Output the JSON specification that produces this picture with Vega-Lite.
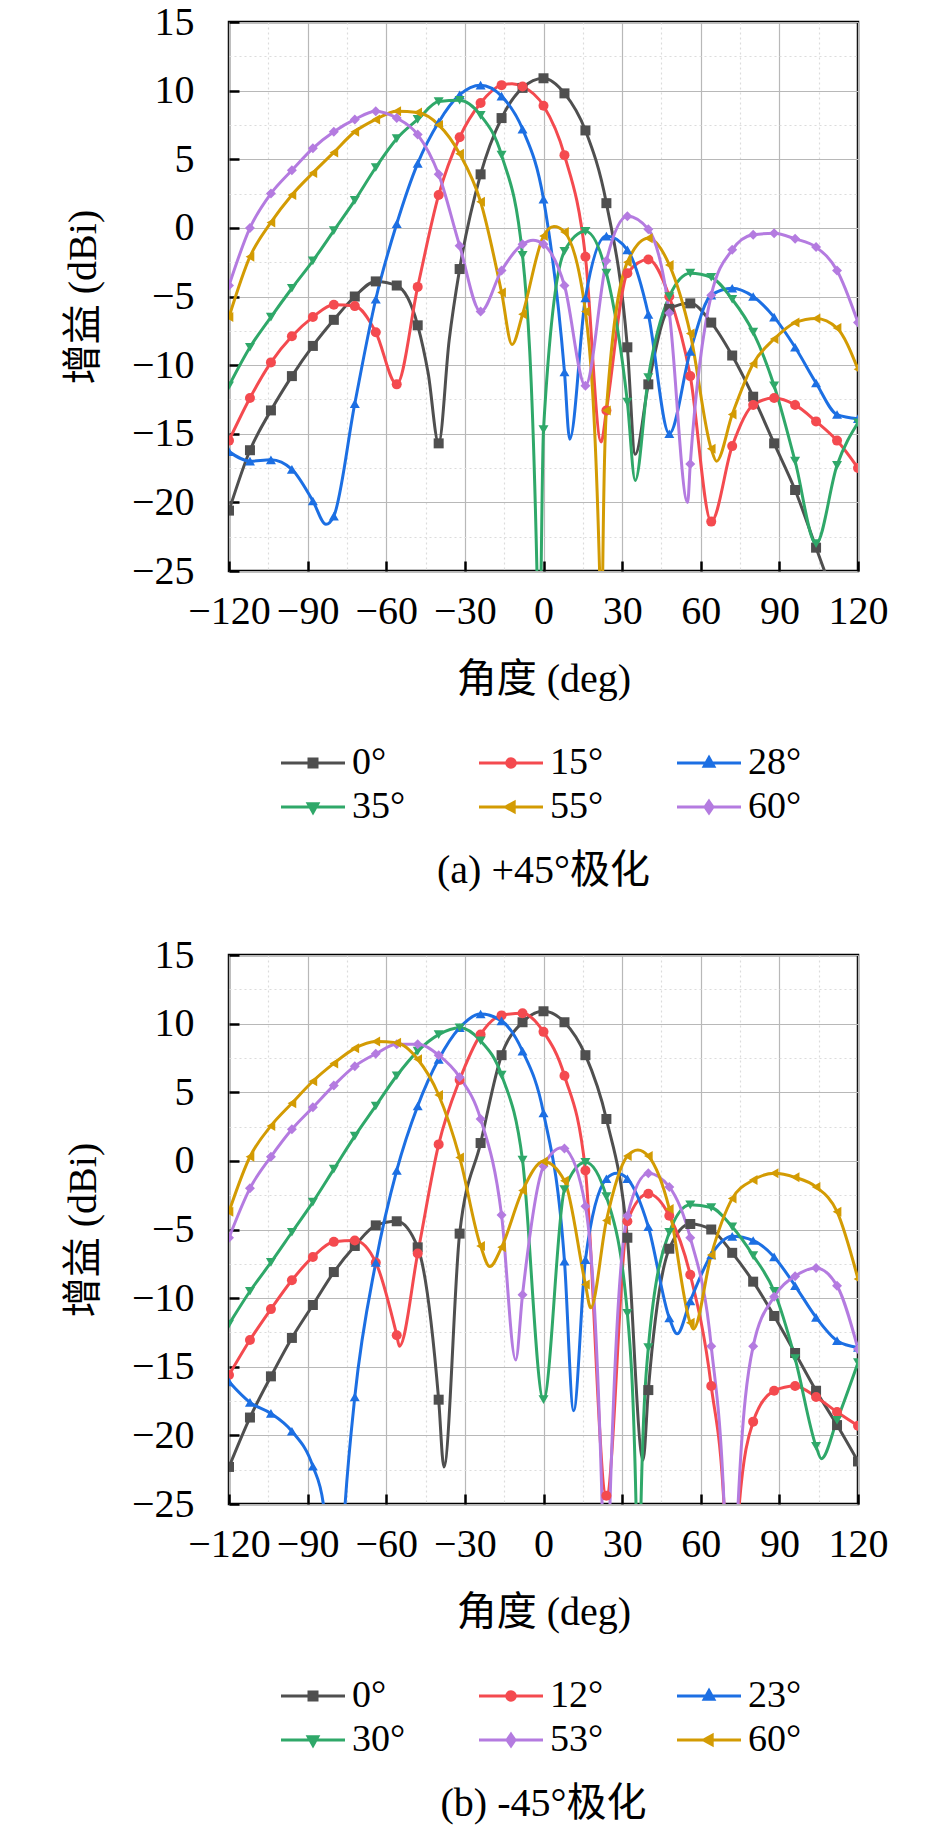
{
  "$schema": "https://vega.github.io/schema/vega-lite/v6.json",
  "padding": {"left": 62, "top": 0, "right": 0, "bottom": 0},
  "config": {
    "font": "Liberation Serif, Noto Sans CJK SC",
    "view": {"stroke": "black", "strokeWidth": 2.5},
    "title": {"font": "Liberation Serif, Noto Sans CJK SC", "fontSize": 40, "fontWeight": "normal", "color": "black", "anchor": "middle"}
  },
  "datasets": {
    "pa": [
      {"s":"0°","a":-120,"g":-20.6},{"s":"0°","a":-112,"g":-16.2},{"s":"0°","a":-104,"g":-13.3},{"s":"0°","a":-96,"g":-10.8},{"s":"0°","a":-88,"g":-8.6},{"s":"0°","a":-80,"g":-6.7},{"s":"0°","a":-72,"g":-5.0},{"s":"0°","a":-64,"g":-3.9},{"s":"0°","a":-56,"g":-4.2},{"s":"0°","a":-48,"g":-7.1},{"s":"0°","a":-44,"g":-10.6},{"s":"0°","a":-40,"g":-15.7},{"s":"0°","a":-36,"g":-8.2},{"s":"0°","a":-32,"g":-3.0},{"s":"0°","a":-24,"g":3.9},{"s":"0°","a":-16,"g":8.0},{"s":"0°","a":-8,"g":10.2},{"s":"0°","a":0,"g":10.9},{"s":"0°","a":8,"g":9.8},{"s":"0°","a":16,"g":7.1},{"s":"0°","a":24,"g":1.8},{"s":"0°","a":32,"g":-8.7},{"s":"0°","a":35,"g":-16.5},{"s":"0°","a":40,"g":-11.4},{"s":"0°","a":48,"g":-5.9},{"s":"0°","a":56,"g":-5.5},{"s":"0°","a":64,"g":-6.9},{"s":"0°","a":72,"g":-9.3},{"s":"0°","a":80,"g":-12.3},{"s":"0°","a":88,"g":-15.7},{"s":"0°","a":96,"g":-19.1},{"s":"0°","a":104,"g":-23.3},{"s":"0°","a":112,"g":-27.5},{"s":"0°","a":120,"g":-31.5},
      {"s":"15°","a":-120,"g":-15.5},{"s":"15°","a":-112,"g":-12.4},{"s":"15°","a":-104,"g":-9.8},{"s":"15°","a":-96,"g":-7.9},{"s":"15°","a":-88,"g":-6.5},{"s":"15°","a":-80,"g":-5.6},{"s":"15°","a":-72,"g":-5.7},{"s":"15°","a":-64,"g":-7.6},{"s":"15°","a":-56,"g":-11.4},{"s":"15°","a":-48,"g":-4.3},{"s":"15°","a":-40,"g":2.4},{"s":"15°","a":-32,"g":6.6},{"s":"15°","a":-24,"g":9.1},{"s":"15°","a":-16,"g":10.4},{"s":"15°","a":-12,"g":10.5},{"s":"15°","a":-8,"g":10.3},{"s":"15°","a":0,"g":8.9},{"s":"15°","a":8,"g":5.3},{"s":"15°","a":16,"g":-2.1},{"s":"15°","a":22,"g":-15.6},{"s":"15°","a":24,"g":-13.3},{"s":"15°","a":32,"g":-3.3},{"s":"15°","a":40,"g":-2.3},{"s":"15°","a":48,"g":-5.0},{"s":"15°","a":56,"g":-10.8},{"s":"15°","a":64,"g":-21.4},{"s":"15°","a":72,"g":-15.9},{"s":"15°","a":80,"g":-12.9},{"s":"15°","a":88,"g":-12.4},{"s":"15°","a":96,"g":-12.9},{"s":"15°","a":104,"g":-14.1},{"s":"15°","a":112,"g":-15.5},{"s":"15°","a":120,"g":-17.5},
      {"s":"28°","a":-120,"g":-16.3},{"s":"28°","a":-112,"g":-17.0},{"s":"28°","a":-104,"g":-16.9},{"s":"28°","a":-96,"g":-17.6},{"s":"28°","a":-88,"g":-19.9},{"s":"28°","a":-83,"g":-21.6},{"s":"28°","a":-80,"g":-21.0},{"s":"28°","a":-72,"g":-12.8},{"s":"28°","a":-64,"g":-5.2},{"s":"28°","a":-56,"g":0.3},{"s":"28°","a":-48,"g":4.7},{"s":"28°","a":-40,"g":7.7},{"s":"28°","a":-32,"g":9.7},{"s":"28°","a":-24,"g":10.4},{"s":"28°","a":-16,"g":9.6},{"s":"28°","a":-8,"g":7.2},{"s":"28°","a":0,"g":2.1},{"s":"28°","a":8,"g":-10.5},{"s":"28°","a":10,"g":-15.4},{"s":"28°","a":16,"g":-5.1},{"s":"28°","a":24,"g":-0.6},{"s":"28°","a":32,"g":-1.6},{"s":"28°","a":40,"g":-6.3},{"s":"28°","a":48,"g":-15.0},{"s":"28°","a":56,"g":-9.0},{"s":"28°","a":64,"g":-4.9},{"s":"28°","a":72,"g":-4.4},{"s":"28°","a":80,"g":-5.0},{"s":"28°","a":88,"g":-6.5},{"s":"28°","a":96,"g":-8.7},{"s":"28°","a":104,"g":-11.3},{"s":"28°","a":112,"g":-13.6},{"s":"28°","a":120,"g":-13.9},
      {"s":"35°","a":-120,"g":-11.5},{"s":"35°","a":-112,"g":-8.7},{"s":"35°","a":-104,"g":-6.5},{"s":"35°","a":-96,"g":-4.4},{"s":"35°","a":-88,"g":-2.4},{"s":"35°","a":-80,"g":-0.2},{"s":"35°","a":-72,"g":2.0},{"s":"35°","a":-64,"g":4.4},{"s":"35°","a":-56,"g":6.5},{"s":"35°","a":-48,"g":7.9},{"s":"35°","a":-40,"g":9.2},{"s":"35°","a":-32,"g":9.3},{"s":"35°","a":-24,"g":8.2},{"s":"35°","a":-16,"g":5.3},{"s":"35°","a":-8,"g":-2.0},{"s":"35°","a":-2.5,"g":-25},{"s":"35°","a":-1.7,"g":-40},{"s":"35°","a":-0.9,"g":-25},{"s":"35°","a":0,"g":-14.7},{"s":"35°","a":8,"g":-1.7},{"s":"35°","a":16,"g":-0.25},{"s":"35°","a":24,"g":-3.3},{"s":"35°","a":32,"g":-12.7},{"s":"35°","a":35,"g":-18.4},{"s":"35°","a":40,"g":-10.9},{"s":"35°","a":48,"g":-5.0},{"s":"35°","a":56,"g":-3.3},{"s":"35°","a":64,"g":-3.6},{"s":"35°","a":72,"g":-5.2},{"s":"35°","a":80,"g":-7.6},{"s":"35°","a":88,"g":-11.5},{"s":"35°","a":96,"g":-17.0},{"s":"35°","a":104,"g":-23.0},{"s":"35°","a":112,"g":-17.3},{"s":"35°","a":120,"g":-14.2},
      {"s":"55°","a":-120,"g":-6.5},{"s":"55°","a":-112,"g":-2.1},{"s":"55°","a":-104,"g":0.4},{"s":"55°","a":-96,"g":2.4},{"s":"55°","a":-88,"g":4.0},{"s":"55°","a":-80,"g":5.5},{"s":"55°","a":-72,"g":7.0},{"s":"55°","a":-64,"g":7.9},{"s":"55°","a":-56,"g":8.5},{"s":"55°","a":-48,"g":8.4},{"s":"55°","a":-40,"g":7.5},{"s":"55°","a":-32,"g":5.4},{"s":"55°","a":-24,"g":1.9},{"s":"55°","a":-16,"g":-4.7},{"s":"55°","a":-12,"g":-8.5},{"s":"55°","a":-8,"g":-6.3},{"s":"55°","a":0,"g":-0.6},{"s":"55°","a":4,"g":0.1},{"s":"55°","a":8,"g":-0.3},{"s":"55°","a":16,"g":-6.1},{"s":"55°","a":21.4,"g":-25},{"s":"55°","a":22,"g":-40},{"s":"55°","a":22.6,"g":-25},{"s":"55°","a":24,"g":-13.3},{"s":"55°","a":32,"g":-2.5},{"s":"55°","a":40,"g":-0.75},{"s":"55°","a":48,"g":-2.7},{"s":"55°","a":56,"g":-7.7},{"s":"55°","a":64,"g":-16.1},{"s":"55°","a":66,"g":-17.0},{"s":"55°","a":72,"g":-13.6},{"s":"55°","a":80,"g":-9.9},{"s":"55°","a":88,"g":-8.1},{"s":"55°","a":96,"g":-6.9},{"s":"55°","a":104,"g":-6.6},{"s":"55°","a":112,"g":-7.3},{"s":"55°","a":120,"g":-10.3},
      {"s":"60°","a":-120,"g":-4.2},{"s":"60°","a":-112,"g":0.0},{"s":"60°","a":-104,"g":2.5},{"s":"60°","a":-96,"g":4.2},{"s":"60°","a":-88,"g":5.8},{"s":"60°","a":-80,"g":7.0},{"s":"60°","a":-72,"g":7.9},{"s":"60°","a":-64,"g":8.5},{"s":"60°","a":-56,"g":8.0},{"s":"60°","a":-48,"g":6.8},{"s":"60°","a":-40,"g":3.9},{"s":"60°","a":-32,"g":-1.3},{"s":"60°","a":-24,"g":-6.1},{"s":"60°","a":-16,"g":-3.1},{"s":"60°","a":-8,"g":-1.2},{"s":"60°","a":-4,"g":-0.9},{"s":"60°","a":0,"g":-1.2},{"s":"60°","a":8,"g":-4.2},{"s":"60°","a":16,"g":-11.5},{"s":"60°","a":24,"g":-2.4},{"s":"60°","a":32,"g":0.85},{"s":"60°","a":40,"g":-0.1},{"s":"60°","a":48,"g":-6.2},{"s":"60°","a":55,"g":-20.0},{"s":"60°","a":56,"g":-17.2},{"s":"60°","a":64,"g":-4.9},{"s":"60°","a":72,"g":-1.6},{"s":"60°","a":80,"g":-0.5},{"s":"60°","a":88,"g":-0.4},{"s":"60°","a":96,"g":-0.8},{"s":"60°","a":104,"g":-1.4},{"s":"60°","a":112,"g":-3.1},{"s":"60°","a":120,"g":-6.9}
    ],
    "pb": [
      {"s":"0°","a":-120,"g":-22.3},{"s":"0°","a":-112,"g":-18.7},{"s":"0°","a":-104,"g":-15.7},{"s":"0°","a":-96,"g":-12.9},{"s":"0°","a":-88,"g":-10.5},{"s":"0°","a":-80,"g":-8.1},{"s":"0°","a":-72,"g":-6.2},{"s":"0°","a":-64,"g":-4.7},{"s":"0°","a":-56,"g":-4.4},{"s":"0°","a":-48,"g":-6.3},{"s":"0°","a":-40,"g":-17.4},{"s":"0°","a":-38,"g":-22.3},{"s":"0°","a":-32,"g":-5.3},{"s":"0°","a":-24,"g":1.3},{"s":"0°","a":-16,"g":7.7},{"s":"0°","a":-8,"g":10.1},{"s":"0°","a":0,"g":10.9},{"s":"0°","a":8,"g":10.1},{"s":"0°","a":16,"g":7.7},{"s":"0°","a":24,"g":3.05},{"s":"0°","a":32,"g":-5.6},{"s":"0°","a":38,"g":-21.8},{"s":"0°","a":40,"g":-16.7},{"s":"0°","a":48,"g":-6.4},{"s":"0°","a":56,"g":-4.6},{"s":"0°","a":64,"g":-5.0},{"s":"0°","a":72,"g":-6.7},{"s":"0°","a":80,"g":-8.8},{"s":"0°","a":88,"g":-11.3},{"s":"0°","a":96,"g":-14.0},{"s":"0°","a":104,"g":-16.75},{"s":"0°","a":112,"g":-19.25},{"s":"0°","a":120,"g":-21.9},
      {"s":"12°","a":-120,"g":-15.6},{"s":"12°","a":-112,"g":-13.05},{"s":"12°","a":-104,"g":-10.8},{"s":"12°","a":-96,"g":-8.7},{"s":"12°","a":-88,"g":-7.0},{"s":"12°","a":-80,"g":-5.9},{"s":"12°","a":-72,"g":-5.8},{"s":"12°","a":-64,"g":-7.4},{"s":"12°","a":-56,"g":-12.7},{"s":"12°","a":-55,"g":-13.5},{"s":"12°","a":-48,"g":-6.75},{"s":"12°","a":-40,"g":1.2},{"s":"12°","a":-32,"g":5.9},{"s":"12°","a":-24,"g":9.2},{"s":"12°","a":-16,"g":10.6},{"s":"12°","a":-8,"g":10.75},{"s":"12°","a":0,"g":9.4},{"s":"12°","a":8,"g":6.2},{"s":"12°","a":16,"g":-0.7},{"s":"12°","a":24,"g":-24.4},{"s":"12°","a":32,"g":-4.4},{"s":"12°","a":40,"g":-2.4},{"s":"12°","a":48,"g":-4.0},{"s":"12°","a":56,"g":-8.3},{"s":"12°","a":64,"g":-16.4},{"s":"12°","a":69,"g":-25.5},{"s":"12°","a":71.5,"g":-40},{"s":"12°","a":74.5,"g":-25.5},{"s":"12°","a":80,"g":-19.0},{"s":"12°","a":88,"g":-16.75},{"s":"12°","a":96,"g":-16.4},{"s":"12°","a":104,"g":-17.2},{"s":"12°","a":112,"g":-18.3},{"s":"12°","a":120,"g":-19.3},
      {"s":"23°","a":-120,"g":-16.1},{"s":"23°","a":-112,"g":-17.6},{"s":"23°","a":-104,"g":-18.4},{"s":"23°","a":-96,"g":-19.7},{"s":"23°","a":-88,"g":-22.25},{"s":"23°","a":-84,"g":-25},{"s":"23°","a":-80,"g":-40},{"s":"23°","a":-75.7,"g":-25},{"s":"23°","a":-72,"g":-17.2},{"s":"23°","a":-64,"g":-7.4},{"s":"23°","a":-56,"g":-0.7},{"s":"23°","a":-48,"g":4.0},{"s":"23°","a":-40,"g":7.4},{"s":"23°","a":-32,"g":9.7},{"s":"23°","a":-24,"g":10.7},{"s":"23°","a":-16,"g":10.2},{"s":"23°","a":-8,"g":8.0},{"s":"23°","a":0,"g":3.5},{"s":"23°","a":8,"g":-7.3},{"s":"23°","a":11.5,"g":-18.2},{"s":"23°","a":16,"g":-7.2},{"s":"23°","a":24,"g":-1.3},{"s":"23°","a":28,"g":-0.9},{"s":"23°","a":32,"g":-1.3},{"s":"23°","a":40,"g":-4.8},{"s":"23°","a":48,"g":-11.45},{"s":"23°","a":51,"g":-12.6},{"s":"23°","a":56,"g":-10.2},{"s":"23°","a":64,"g":-6.85},{"s":"23°","a":72,"g":-5.5},{"s":"23°","a":80,"g":-5.8},{"s":"23°","a":88,"g":-7.0},{"s":"23°","a":96,"g":-9.1},{"s":"23°","a":104,"g":-11.4},{"s":"23°","a":112,"g":-13.1},{"s":"23°","a":120,"g":-13.6},
      {"s":"30°","a":-120,"g":-11.9},{"s":"30°","a":-112,"g":-9.5},{"s":"30°","a":-104,"g":-7.4},{"s":"30°","a":-96,"g":-5.2},{"s":"30°","a":-88,"g":-3.0},{"s":"30°","a":-80,"g":-0.6},{"s":"30°","a":-72,"g":1.8},{"s":"30°","a":-64,"g":4.0},{"s":"30°","a":-56,"g":6.2},{"s":"30°","a":-48,"g":8.0},{"s":"30°","a":-40,"g":9.2},{"s":"30°","a":-32,"g":9.7},{"s":"30°","a":-24,"g":8.75},{"s":"30°","a":-16,"g":6.25},{"s":"30°","a":-8,"g":0.05},{"s":"30°","a":0,"g":-17.4},{"s":"30°","a":8,"g":-2.1},{"s":"30°","a":16,"g":-0.1},{"s":"30°","a":24,"g":-2.6},{"s":"30°","a":32,"g":-11.1},{"s":"30°","a":35.3,"g":-25},{"s":"30°","a":36.2,"g":-40},{"s":"30°","a":37.2,"g":-25},{"s":"30°","a":40,"g":-13.6},{"s":"30°","a":48,"g":-5.2},{"s":"30°","a":56,"g":-3.2},{"s":"30°","a":64,"g":-3.4},{"s":"30°","a":72,"g":-4.8},{"s":"30°","a":80,"g":-6.9},{"s":"30°","a":88,"g":-9.5},{"s":"30°","a":96,"g":-14.4},{"s":"30°","a":104,"g":-20.8},{"s":"30°","a":106,"g":-21.7},{"s":"30°","a":112,"g":-18.9},{"s":"30°","a":120,"g":-14.7},
      {"s":"53°","a":-120,"g":-5.6},{"s":"53°","a":-112,"g":-2.0},{"s":"53°","a":-104,"g":0.3},{"s":"53°","a":-96,"g":2.3},{"s":"53°","a":-88,"g":3.9},{"s":"53°","a":-80,"g":5.5},{"s":"53°","a":-72,"g":6.9},{"s":"53°","a":-64,"g":7.8},{"s":"53°","a":-56,"g":8.5},{"s":"53°","a":-48,"g":8.5},{"s":"53°","a":-40,"g":7.7},{"s":"53°","a":-32,"g":6.1},{"s":"53°","a":-24,"g":3.05},{"s":"53°","a":-16,"g":-3.95},{"s":"53°","a":-10.6,"g":-14.5},{"s":"53°","a":-8,"g":-9.75},{"s":"53°","a":0,"g":-0.4},{"s":"53°","a":7,"g":0.95},{"s":"53°","a":8,"g":0.9},{"s":"53°","a":16,"g":-3.3},{"s":"53°","a":22.5,"g":-26},{"s":"53°","a":23.8,"g":-40},{"s":"53°","a":25.2,"g":-26},{"s":"53°","a":32,"g":-4.0},{"s":"53°","a":40,"g":-0.9},{"s":"53°","a":48,"g":-1.9},{"s":"53°","a":56,"g":-5.6},{"s":"53°","a":64,"g":-13.5},{"s":"53°","a":69,"g":-25.5},{"s":"53°","a":71.5,"g":-40},{"s":"53°","a":74,"g":-26},{"s":"53°","a":80,"g":-13.5},{"s":"53°","a":88,"g":-9.9},{"s":"53°","a":96,"g":-8.4},{"s":"53°","a":104,"g":-7.8},{"s":"53°","a":112,"g":-9.1},{"s":"53°","a":120,"g":-13.7},
      {"s":"60°","a":-120,"g":-3.7},{"s":"60°","a":-112,"g":0.3},{"s":"60°","a":-104,"g":2.55},{"s":"60°","a":-96,"g":4.2},{"s":"60°","a":-88,"g":5.8},{"s":"60°","a":-80,"g":7.1},{"s":"60°","a":-72,"g":8.2},{"s":"60°","a":-64,"g":8.7},{"s":"60°","a":-56,"g":8.6},{"s":"60°","a":-48,"g":7.4},{"s":"60°","a":-40,"g":4.8},{"s":"60°","a":-32,"g":0.25},{"s":"60°","a":-24,"g":-6.2},{"s":"60°","a":-20.5,"g":-7.7},{"s":"60°","a":-16,"g":-6.3},{"s":"60°","a":-8,"g":-2.15},{"s":"60°","a":0,"g":-0.05},{"s":"60°","a":8,"g":-1.45},{"s":"60°","a":16,"g":-9.0},{"s":"60°","a":18,"g":-10.7},{"s":"60°","a":24,"g":-4.35},{"s":"60°","a":32,"g":0.35},{"s":"60°","a":36,"g":0.8},{"s":"60°","a":40,"g":0.35},{"s":"60°","a":48,"g":-3.5},{"s":"60°","a":56,"g":-11.8},{"s":"60°","a":57.2,"g":-12.25},{"s":"60°","a":64,"g":-6.85},{"s":"60°","a":72,"g":-2.75},{"s":"60°","a":80,"g":-1.4},{"s":"60°","a":88,"g":-0.9},{"s":"60°","a":96,"g":-1.2},{"s":"60°","a":104,"g":-1.9},{"s":"60°","a":112,"g":-3.7},{"s":"60°","a":120,"g":-8.6}
    ]
  },
  "resolve": {"scale": {"color": "independent", "shape": "independent"}, "legend": {"color": "independent", "shape": "independent"}},
  "spacing": 40,
  "vconcat": [
    {
      "width": 629, "height": 549,
      "data": {"name": "pa"},
      "title": {"text": "(a) +45°极化", "orient": "bottom", "offset": 25},
      "encoding": {
        "x": {"field": "a", "type": "quantitative", "scale": {"domain": [-120, 120], "nice": false, "zero": false},
          "axis": {"title": "角度 (deg)", "values": [-120,-105,-90,-75,-60,-45,-30,-15,0,15,30,45,60,75,90,105,120], "format": "d",
            "labelFont": "Liberation Serif", "labelFontSize": 40, "labelColor": "black", "labelFlush": false, "labelOverlap": false, "labelPadding": 30,
            "titleFont": "Liberation Serif, Noto Sans CJK SC", "titleFontSize": 40, "titleFontWeight": "normal", "titleColor": "black", "titlePadding": 28,
            "domain": false, "tickColor": "black", "tickWidth": 2.5, "tickSize": -10, "gridWidth": 1.2,
            "labelExpr": "datum.value % 30 === 0 ? datum.label : ''",
            "gridDash": {"condition": {"test": "datum.value % 30 !== 0", "value": [2, 3]}, "value": []},
            "gridColor": {"condition": {"test": "datum.value % 30 !== 0", "value": "#dcdcdc"}, "value": "#b8b8b8"},
            "tickOpacity": {"condition": {"test": "datum.value % 30 !== 0", "value": 0}, "value": 1}}},
        "y": {"field": "g", "type": "quantitative", "scale": {"domain": [-25, 15], "nice": false, "zero": false},
          "axis": {"title": "增益 (dBi)", "values": [-25,-22.5,-20,-17.5,-15,-12.5,-10,-7.5,-5,-2.5,0,2.5,5,7.5,10,12.5,15], "format": "d",
            "labelFont": "Liberation Serif", "labelFontSize": 40, "labelColor": "black", "labelFlush": false, "labelOverlap": false, "labelPadding": 45,
            "titleFont": "Liberation Serif, Noto Sans CJK SC", "titleFontSize": 40, "titleFontWeight": "normal", "titleColor": "black", "titlePadding": 28,
            "domain": false, "tickColor": "black", "tickWidth": 2.5, "tickSize": -10, "gridWidth": 1.2,
            "labelExpr": "datum.value % 5 === 0 ? datum.label : ''",
            "gridDash": {"condition": {"test": "datum.value % 5 !== 0", "value": [2, 3]}, "value": []},
            "gridColor": {"condition": {"test": "datum.value % 5 !== 0", "value": "#dcdcdc"}, "value": "#b8b8b8"},
            "tickOpacity": {"condition": {"test": "datum.value % 5 !== 0", "value": 0}, "value": 1}}},
        "color": {"field": "s", "type": "nominal",
          "scale": {"domain": ["0°", "15°", "28°", "35°", "55°", "60°"], "range": ["#4f4f4f", "#f44a4f", "#1c6fe3", "#2fa869", "#d39b03", "#b47be0"]},
          "legend": {"orient": "none", "legendX": 49, "legendY": 722, "direction": "horizontal", "columns": 3, "title": null, "padding": 0,
            "labelFont": "Liberation Serif", "labelFontSize": 38, "labelColor": "black",
            "symbolSize": 1024, "symbolStrokeWidth": 3, "symbolOpacity": 1, "labelOffset": 36, "columnPadding": 67, "rowPadding": 6}}
      },
      "layer": [
        {"mark": {"type": "line", "interpolate": "monotone", "strokeWidth": 3, "clip": true}},
        {"transform": [{"filter": "datum.g < -100"}],
          "mark": {"type": "point", "filled": true, "size": 1024, "opacity": 1, "clip": true},
          "encoding": {"shape": {"field": "s", "type": "nominal", "legend": null,
            "scale": {"domain": ["0°", "15°", "28°", "35°", "55°", "60°"], "range": [
              "M-1,0H3M0.75,-0.25H1.25V0.25H0.75Z",
              "M-1,0H3M0.73,0A0.27,0.27,0,1,0,1.27,0A0.27,0.27,0,1,0,0.73,0Z",
              "M-1,0H3M1,-0.34L1.3,0.2H0.7Z",
              "M-1,0H3M1,0.34L1.3,-0.2H0.7Z",
              "M-1,0H3M0.66,0L1.2,-0.3V0.3Z",
              "M-1,0H3M1,-0.36L1.25,0L1,0.36L0.75,0Z"]}}}},
        {"transform": [{"filter": "datum.a % 8 === 0 && datum.s === '0°'"}], "mark": {"type": "point", "filled": true, "shape": "square", "size": 100, "opacity": 1, "clip": true}, "encoding": {"color": {"field": "s", "type": "nominal", "legend": null}}},
        {"transform": [{"filter": "datum.a % 8 === 0 && datum.s === '15°'"}], "mark": {"type": "point", "filled": true, "shape": "circle", "size": 100, "opacity": 1, "clip": true}, "encoding": {"color": {"field": "s", "type": "nominal", "legend": null}}},
        {"transform": [{"filter": "datum.a % 8 === 0 && datum.s === '28°'"}], "mark": {"type": "point", "filled": true, "shape": "triangle-up", "size": 100, "opacity": 1, "clip": true}, "encoding": {"color": {"field": "s", "type": "nominal", "legend": null}}},
        {"transform": [{"filter": "datum.a % 8 === 0 && datum.s === '35°'"}], "mark": {"type": "point", "filled": true, "shape": "triangle-down", "size": 100, "opacity": 1, "clip": true}, "encoding": {"color": {"field": "s", "type": "nominal", "legend": null}}},
        {"transform": [{"filter": "datum.a % 8 === 0 && datum.s === '55°'"}], "mark": {"type": "point", "filled": true, "shape": "triangle-left", "size": 100, "opacity": 1, "clip": true}, "encoding": {"color": {"field": "s", "type": "nominal", "legend": null}}},
        {"transform": [{"filter": "datum.a % 8 === 0 && datum.s === '60°'"}], "mark": {"type": "point", "filled": true, "shape": "diamond", "size": 100, "opacity": 1, "clip": true}, "encoding": {"color": {"field": "s", "type": "nominal", "legend": null}}}
      ]
    },
    {
      "width": 629, "height": 549,
      "data": {"name": "pb"},
      "title": {"text": "(b) -45°极化", "orient": "bottom", "offset": 25},
      "encoding": {
        "x": {"field": "a", "type": "quantitative", "scale": {"domain": [-120, 120], "nice": false, "zero": false},
          "axis": {"title": "角度 (deg)", "values": [-120,-105,-90,-75,-60,-45,-30,-15,0,15,30,45,60,75,90,105,120], "format": "d",
            "labelFont": "Liberation Serif", "labelFontSize": 40, "labelColor": "black", "labelFlush": false, "labelOverlap": false, "labelPadding": 30,
            "titleFont": "Liberation Serif, Noto Sans CJK SC", "titleFontSize": 40, "titleFontWeight": "normal", "titleColor": "black", "titlePadding": 28,
            "domain": false, "tickColor": "black", "tickWidth": 2.5, "tickSize": -10, "gridWidth": 1.2,
            "labelExpr": "datum.value % 30 === 0 ? datum.label : ''",
            "gridDash": {"condition": {"test": "datum.value % 30 !== 0", "value": [2, 3]}, "value": []},
            "gridColor": {"condition": {"test": "datum.value % 30 !== 0", "value": "#dcdcdc"}, "value": "#b8b8b8"},
            "tickOpacity": {"condition": {"test": "datum.value % 30 !== 0", "value": 0}, "value": 1}}},
        "y": {"field": "g", "type": "quantitative", "scale": {"domain": [-25, 15], "nice": false, "zero": false},
          "axis": {"title": "增益 (dBi)", "values": [-25,-22.5,-20,-17.5,-15,-12.5,-10,-7.5,-5,-2.5,0,2.5,5,7.5,10,12.5,15], "format": "d",
            "labelFont": "Liberation Serif", "labelFontSize": 40, "labelColor": "black", "labelFlush": false, "labelOverlap": false, "labelPadding": 45,
            "titleFont": "Liberation Serif, Noto Sans CJK SC", "titleFontSize": 40, "titleFontWeight": "normal", "titleColor": "black", "titlePadding": 28,
            "domain": false, "tickColor": "black", "tickWidth": 2.5, "tickSize": -10, "gridWidth": 1.2,
            "labelExpr": "datum.value % 5 === 0 ? datum.label : ''",
            "gridDash": {"condition": {"test": "datum.value % 5 !== 0", "value": [2, 3]}, "value": []},
            "gridColor": {"condition": {"test": "datum.value % 5 !== 0", "value": "#dcdcdc"}, "value": "#b8b8b8"},
            "tickOpacity": {"condition": {"test": "datum.value % 5 !== 0", "value": 0}, "value": 1}}},
        "color": {"field": "s", "type": "nominal",
          "scale": {"domain": ["0°", "12°", "23°", "30°", "53°", "60°"], "range": ["#4f4f4f", "#f44a4f", "#1c6fe3", "#2fa869", "#b47be0", "#d39b03"]},
          "legend": {"orient": "none", "legendX": 49, "legendY": 722, "direction": "horizontal", "columns": 3, "title": null, "padding": 0,
            "labelFont": "Liberation Serif", "labelFontSize": 38, "labelColor": "black",
            "symbolSize": 1024, "symbolStrokeWidth": 3, "symbolOpacity": 1, "labelOffset": 36, "columnPadding": 67, "rowPadding": 6}}
      },
      "layer": [
        {"mark": {"type": "line", "interpolate": "monotone", "strokeWidth": 3, "clip": true}},
        {"transform": [{"filter": "datum.g < -100"}],
          "mark": {"type": "point", "filled": true, "size": 1024, "opacity": 1, "clip": true},
          "encoding": {"shape": {"field": "s", "type": "nominal", "legend": null,
            "scale": {"domain": ["0°", "12°", "23°", "30°", "53°", "60°"], "range": [
              "M-1,0H3M0.75,-0.25H1.25V0.25H0.75Z",
              "M-1,0H3M0.73,0A0.27,0.27,0,1,0,1.27,0A0.27,0.27,0,1,0,0.73,0Z",
              "M-1,0H3M1,-0.34L1.3,0.2H0.7Z",
              "M-1,0H3M1,0.34L1.3,-0.2H0.7Z",
              "M-1,0H3M1,-0.36L1.25,0L1,0.36L0.75,0Z",
              "M-1,0H3M0.66,0L1.2,-0.3V0.3Z"]}}}},
        {"transform": [{"filter": "datum.a % 8 === 0 && datum.s === '0°'"}], "mark": {"type": "point", "filled": true, "shape": "square", "size": 100, "opacity": 1, "clip": true}, "encoding": {"color": {"field": "s", "type": "nominal", "legend": null}}},
        {"transform": [{"filter": "datum.a % 8 === 0 && datum.s === '12°'"}], "mark": {"type": "point", "filled": true, "shape": "circle", "size": 100, "opacity": 1, "clip": true}, "encoding": {"color": {"field": "s", "type": "nominal", "legend": null}}},
        {"transform": [{"filter": "datum.a % 8 === 0 && datum.s === '23°'"}], "mark": {"type": "point", "filled": true, "shape": "triangle-up", "size": 100, "opacity": 1, "clip": true}, "encoding": {"color": {"field": "s", "type": "nominal", "legend": null}}},
        {"transform": [{"filter": "datum.a % 8 === 0 && datum.s === '30°'"}], "mark": {"type": "point", "filled": true, "shape": "triangle-down", "size": 100, "opacity": 1, "clip": true}, "encoding": {"color": {"field": "s", "type": "nominal", "legend": null}}},
        {"transform": [{"filter": "datum.a % 8 === 0 && datum.s === '53°'"}], "mark": {"type": "point", "filled": true, "shape": "diamond", "size": 100, "opacity": 1, "clip": true}, "encoding": {"color": {"field": "s", "type": "nominal", "legend": null}}},
        {"transform": [{"filter": "datum.a % 8 === 0 && datum.s === '60°'"}], "mark": {"type": "point", "filled": true, "shape": "triangle-left", "size": 100, "opacity": 1, "clip": true}, "encoding": {"color": {"field": "s", "type": "nominal", "legend": null}}}
      ]
    }
  ]
}
